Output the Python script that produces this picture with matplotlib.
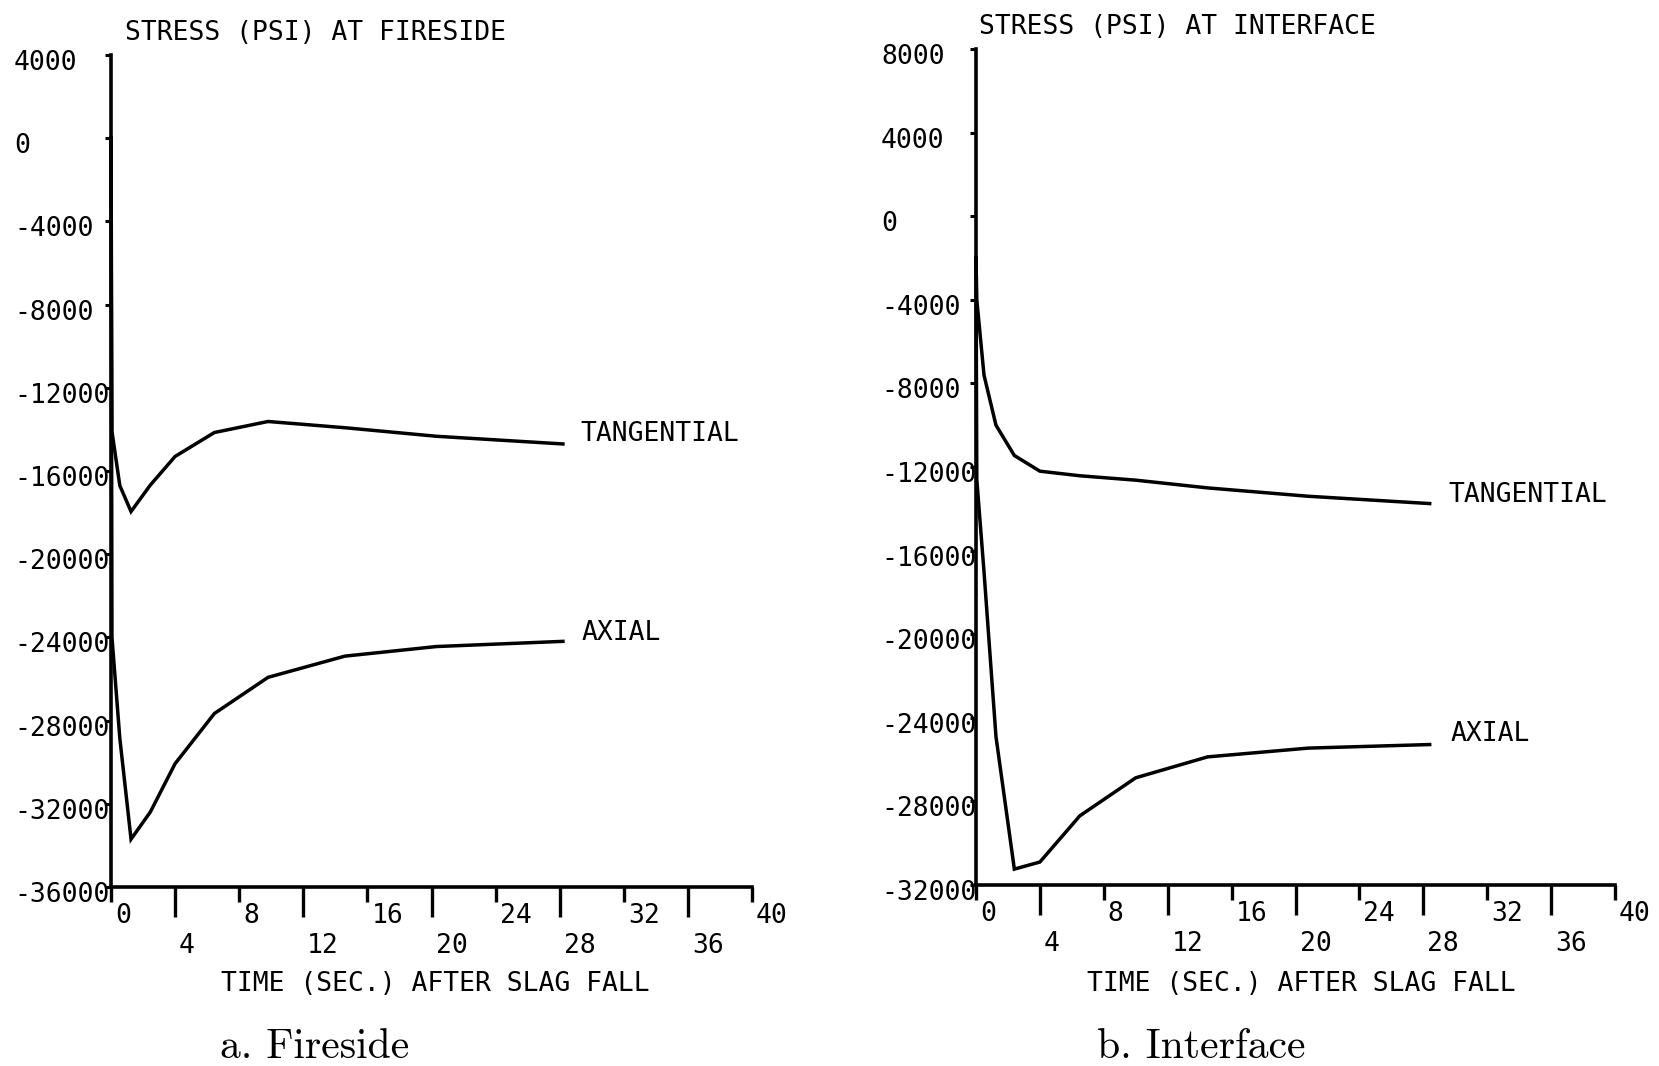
import numpy as np
import matplotlib
matplotlib.use("Agg")
import matplotlib.pyplot as plt
from matplotlib.transforms import ScaledTranslation

# values (time in sec, stress in psi)
t_fire = [0, 0.06, 0.55, 1.25, 2.45, 4, 6.45, 9.8, 14.6, 20.3, 28.2]
tang_fire = [0, -14100, -16700, -17950, -16680, -15300, -14150, -13620, -13920, -14330, -14700]
axial_fire = [0, -24000, -28850, -33700, -32400, -30070, -27660, -25920, -24900, -24440, -24190]

t_int = [0, 0.05, 0.5, 1.25, 2.4, 4, 6.5, 10, 14.5, 20.8, 28.4]
tang_int = [-2000, -4000, -7600, -10000, -11450, -12200, -12420, -12630, -13000, -13400, -13750]
axial_int = [-2000, -12600, -17000, -24900, -31240, -30900, -28690, -26870, -25870, -25450, -25280]

xticks_low = [4, 12, 20, 28, 36]
xticks_high = [0, 8, 16, 24, 32, 40]
yticks_fire = list(range(4000, -36001, -4000))
yticks_int = list(range(8000, -32001, -4000))

mono = "DejaVu Sans Mono"
fs = 19
W, H = 1659, 1066
px = 72 / 100  # points per pixel

fig = plt.figure(figsize=(W / 100, H / 100), dpi=100)


def add_panel(x0, x1, ytop, ybot, label_x):
    ax = fig.add_axes([x0 / W, 1 - ybot / H, (x1 - x0) / W, (ybot - ytop) / H])
    for s in ["top", "right"]:
        ax.spines[s].set_visible(False)
    for s in ["left", "bottom"]:
        ax.spines[s].set_linewidth(2.6)
    ax.set_xlim(0, 40)
    ax.set_xticks(xticks_low, [str(v) for v in xticks_low])
    ax.set_xticks(xticks_high, [str(v) for v in xticks_high], minor=True)
    ax.tick_params(axis="x", which="major", direction="out", length=30 * px,
                   width=2.4, pad=16 * px)
    ax.tick_params(axis="x", which="minor", direction="out", length=15 * px,
                   width=2.4, pad=1 * px)
    shift = ScaledTranslation(4 / 100, 0, fig.dpi_scale_trans)
    for lab in ax.get_xticklabels(which="both"):
        lab.set_fontfamily(mono)
        lab.set_fontsize(fs)
        lab.set_horizontalalignment("left")
        lab.set_transform(lab.get_transform() + shift)
    # y labels are left aligned at the page margin
    tl = 4
    ax.tick_params(axis="y", direction="out", length=tl, width=2.2,
                   pad=(x0 - label_x) * px - tl)
    return ax


ax1 = add_panel(111, 752, 55, 887, 14)
ax1.set_ylim(-36000, 4000)
ax1.set_yticks(yticks_fire, [str(v) for v in yticks_fire])

ax2 = add_panel(976, 1615, 49, 885, 881)
ax2.set_ylim(-32000, 8000)
ax2.set_yticks(yticks_int, [str(v) for v in yticks_int])

down = ScaledTranslation(0, -5 / 100, fig.dpi_scale_trans)
for ax in (ax1, ax2):
    for lab in ax.get_yticklabels():
        lab.set_fontfamily(mono)
        lab.set_fontsize(fs)
        lab.set_horizontalalignment("left")
        lab.set_transform(lab.get_transform() + down)

for ax, t, ys in [(ax1, t_fire, [tang_fire, axial_fire]), (ax2, t_int, [tang_int, axial_int])]:
    for y in ys:
        ax.plot(t, y, color="black", lw=2.5, solid_joinstyle="miter", clip_on=False)

# curve names next to the last point
ax1.annotate("TANGENTIAL", (t_fire[-1], tang_fire[-1]), xytext=(17, 10),
             textcoords="offset pixels", va="center", family=mono, fontsize=fs)
ax1.annotate("AXIAL", (t_fire[-1], axial_fire[-1]), xytext=(19, 8),
             textcoords="offset pixels", va="center", family=mono, fontsize=fs)
ax2.annotate("TANGENTIAL", (t_int[-1], tang_int[-1]), xytext=(19, 9),
             textcoords="offset pixels", va="center", family=mono, fontsize=fs)
ax2.annotate("AXIAL", (t_int[-1], axial_int[-1]), xytext=(21, 11),
             textcoords="offset pixels", va="center", family=mono, fontsize=fs)

fig.text(125 / W, 1 - 40 / H, "STRESS (PSI) AT FIRESIDE", family=mono, fontsize=fs, va="baseline")
fig.text(979 / W, 1 - 34 / H, "STRESS (PSI) AT INTERFACE", family=mono, fontsize=fs, va="baseline")

fig.text(435 / W, 1 - 991 / H, "TIME (SEC.) AFTER SLAG FALL", family=mono, fontsize=fs,
         ha="center", va="baseline")
fig.text(1301 / W, 1 - 991 / H, "TIME (SEC.) AFTER SLAG FALL", family=mono, fontsize=fs,
         ha="center", va="baseline")

fig.text(315 / W, 1 - 1058 / H, "a. Fireside", family="cmr10", fontsize=30,
         ha="center", va="baseline")
fig.text(1201 / W, 1 - 1058 / H, "b. Interface", family="cmr10", fontsize=30,
         ha="center", va="baseline")

fig.savefig("out.png", dpi=100)
